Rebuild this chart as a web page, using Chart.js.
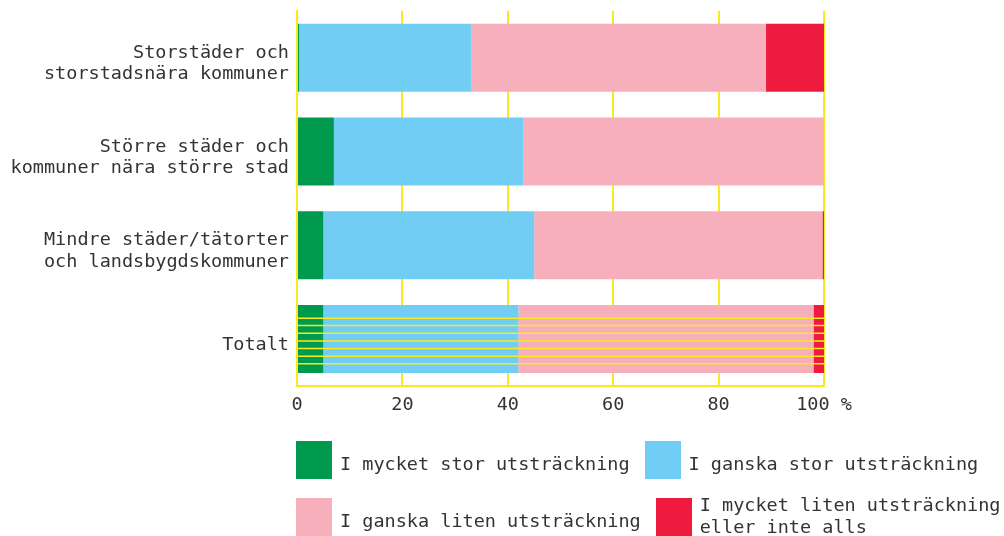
<!DOCTYPE html>
<html>
<head>
<meta charset="utf-8">
<script src="https://cdn.jsdelivr.net/npm/chart.js@4/dist/chart.umd.min.js"></script>
<style>
  html, body { margin: 0; padding: 0; background: #fff; }
  #wrap { position: relative; width: 1004px; height: 536px; overflow: hidden;
          font-family: "DejaVu Sans Mono", monospace; color: #333; }
  #chart { position: absolute; left: 0; top: 0; }
  .row { position: absolute; left: 296px; display: flex; gap: 15px; }
  .item { display: flex; align-items: flex-start; }
  .box { width: 36px; height: 38px; flex: none; }
  .txt { margin-left: 8px; font-size: 18.5px; line-height: 22px; white-space: nowrap; }
</style>
</head>
<body>
<div id="wrap">
  <canvas id="chart" width="1004" height="536"></canvas>
  <div class="row" id="row1" style="top:441px"></div>
  <div class="row" id="row2" style="top:498px"></div>
</div>
<script>
// kategorier och andelar i procent
const categories = [
  ['Storstäder och', 'storstadsnära kommuner'],
  ['Större städer och', 'kommuner nära större stad'],
  ['Mindre städer/tätorter', 'och landsbygdskommuner'],
  'Totalt'
];
const mycketStor = [0.4, 7, 5, 5];
const ganskaStor = [32.6, 36, 40, 37];
const ganskaLiten = [56, 57, 54.7, 56];
const mycketLiten = [11, 0, 0.3, 2];
const xTicks = [0, 20, 40, 60, 80, 100];

const seriesLabels = [
  ['I mycket stor utsträckning'],
  ['I ganska stor utsträckning'],
  ['I ganska liten utsträckning'],
  ['I mycket liten utsträckning', 'eller inte alls']
];
const colors = ['#009a4e', '#71cdf3', '#f7afbb', '#ee1b3e'];
const yellow = '#f7ea1e';
const font = { family: '"DejaVu Sans Mono", monospace', size: 18.5 };

// gula linjer över totalstapeln
const stripes = {
  id: 'stripes',
  afterDatasetsDraw(chart) {
    const bar = chart.getDatasetMeta(0).data[3];
    if (!bar) return;
    const { left, right } = chart.chartArea;
    const top = bar.y - bar.height / 2;
    const ctx = chart.ctx;
    ctx.save();
    ctx.strokeStyle = yellow;
    ctx.lineWidth = 1.5;
    [0.192, 0.30, 0.414, 0.527, 0.64, 0.753, 0.861].forEach((f) => {
      const y = top + bar.height * f;
      ctx.beginPath();
      ctx.moveTo(left, y);
      ctx.lineTo(right, y);
      ctx.stroke();
    });
    ctx.restore();
  }
};

const data = [mycketStor, ganskaStor, ganskaLiten, mycketLiten];

new Chart(document.getElementById('chart'), {
  type: 'bar',
  data: {
    labels: categories,
    datasets: data.map((d, i) => ({
      label: seriesLabels[i].join(' '),
      data: d,
      backgroundColor: colors[i],
      borderWidth: 0,
      categoryPercentage: 1,
      barPercentage: 0.725
    }))
  },
  options: {
    indexAxis: 'y',
    responsive: false,
    animation: false,
    layout: { padding: { top: 4, right: 180, bottom: 120, left: 0 } },
    plugins: { legend: { display: false }, tooltip: { enabled: false } },
    scales: {
      x: {
        stacked: true,
        min: 0,
        max: 100,
        afterBuildTicks: (s) => { s.ticks = xTicks.map((v) => ({ value: v })); },
        afterFit: (s) => { s.height = 30; },
        ticks: {
          font: font,
          color: '#333',
          padding: 8,
          maxRotation: 0,
          callback: (v) => (v === 100 ? '100 %' : String(v))
        },
        grid: { color: yellow, lineWidth: 2, drawTicks: false },
        border: { color: yellow, width: 2 }
      },
      y: {
        stacked: true,
        afterFit: (s) => { s.width = 297; },
        ticks: {
          font: { ...font, lineHeight: 1.16 },
          color: '#333',
          padding: 0,
          labelOffset: 6
        },
        grid: { display: false },
        border: { color: yellow, width: 2 }
      }
    }
  },
  plugins: [stripes]
});

// förklaring
seriesLabels.forEach((lines, i) => {
  const item = document.createElement('div');
  item.className = 'item';
  const box = document.createElement('div');
  box.className = 'box';
  box.style.background = colors[i];
  const txt = document.createElement('div');
  txt.className = 'txt';
  txt.innerHTML = lines.join('<br>');
  txt.style.marginTop = lines.length > 1 ? '-4px' : '12px';
  item.appendChild(box);
  item.appendChild(txt);
  document.getElementById(i < 2 ? 'row1' : 'row2').appendChild(item);
});
</script>
</body>
</html>
